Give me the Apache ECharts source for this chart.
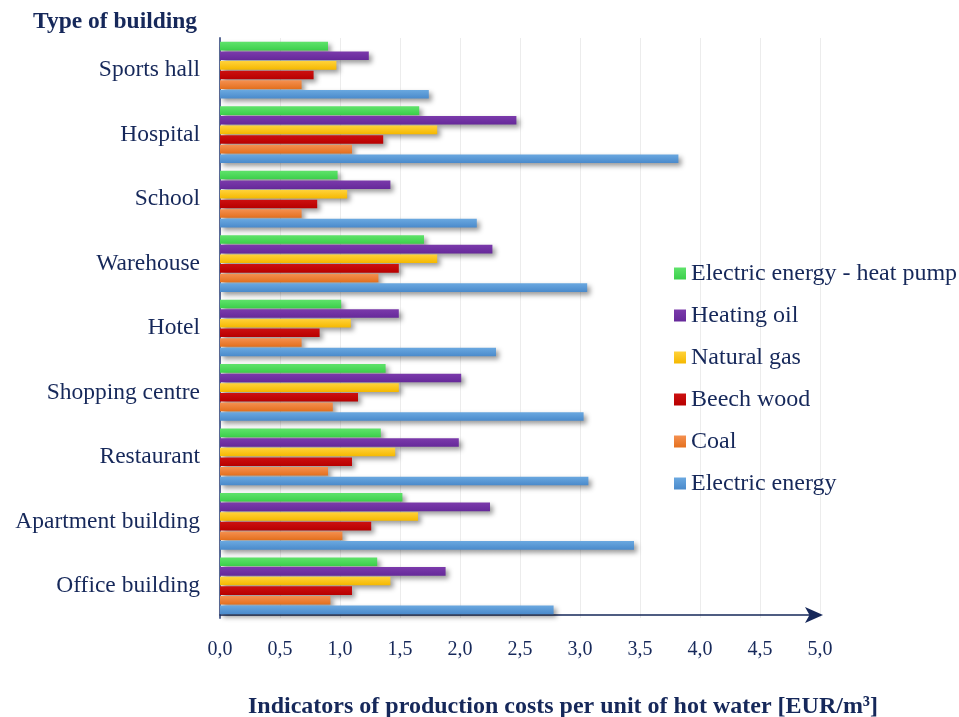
<!DOCTYPE html>
<html>
<head>
<meta charset="utf-8">
<script src="https://cdn.jsdelivr.net/npm/echarts@6/dist/echarts.min.js"></script>
<style>
html,body{margin:0;padding:0;background:#fff;}
#chart{width:959px;height:717px;}
</style>
</head>
<body>
<div id="chart"></div>
<script>
// Categories from bottom to top
const categories = ['Office building','Apartment building','Restaurant','Shopping centre','Hotel','Warehouse','School','Hospital','Sports hall'];
const seriesNames = ['Electric energy - heat pump','Heating oil','Natural gas','Beech wood','Coal','Electric energy'];
const heatPump      = [1.31, 1.52, 1.34, 1.38, 1.01, 1.70, 0.98, 1.66, 0.90];
const heatingOil    = [1.88, 2.25, 1.99, 2.01, 1.49, 2.27, 1.42, 2.47, 1.24];
const naturalGas    = [1.42, 1.65, 1.46, 1.49, 1.09, 1.81, 1.06, 1.81, 0.97];
const beechWood     = [1.10, 1.26, 1.10, 1.15, 0.83, 1.49, 0.81, 1.36, 0.78];
const coal          = [0.92, 1.02, 0.90, 0.94, 0.68, 1.32, 0.68, 1.10, 0.68];
const electricEnergy= [2.78, 3.45, 3.07, 3.03, 2.30, 3.06, 2.14, 3.82, 1.74];
const xTicks = [0, 0.5, 1, 1.5, 2, 2.5, 3, 3.5, 4, 4.5, 5];

const colors = [
  ['#5fe36b','#3ccf4b'],
  ['#7b3aab','#66299a'],
  ['#ffd23a','#f5b800'],
  ['#cc1010','#b80000'],
  ['#f59050','#e4701e'],
  ['#6aa8e0','#4a8acb']
];
const values = [heatPump, heatingOil, naturalGas, beechWood, coal, electricEnergy];
const textColor = '#16285a';
const font = 'Liberation Serif';

function grad(c){
  return new echarts.graphic.LinearGradient(0,0,0,1,[{offset:0,color:c[0]},{offset:1,color:c[1]}]);
}

const series = seriesNames.map((n,i)=>({
  name:n,
  type:'bar',
  data:values[i],
  barGap:'12%',
  barCategoryGap:'12%',
  itemStyle:{
    color:grad(colors[i]),
    shadowColor:'rgba(0,0,0,0.4)',
    shadowBlur:5,
    shadowOffsetX:3,
    shadowOffsetY:3
  }
}));

const chart = echarts.init(document.getElementById('chart'), null, {renderer:'canvas'});
chart.setOption({
  animation:false,
  backgroundColor:'#fff',
  textStyle:{fontFamily:font},
  title:[
    {text:'Type of building', left:28, top:5, textStyle:{fontFamily:font,fontSize:23.5,fontWeight:'bold',color:textColor}},
    {text:'Indicators of production costs per unit of hot water [EUR/m³]', left:243, top:690, textStyle:{fontFamily:font,fontSize:24,fontWeight:'bold',color:textColor}}
  ],
  legend:{
    orient:'vertical',
    left:669,
    top:255,
    itemWidth:12,
    itemHeight:12,
    itemGap:15,
    icon:'rect',
    data:seriesNames,
    textStyle:{fontFamily:font,fontSize:24,color:textColor,padding:[0,0,0,0],lineHeight:27}
  },
  grid:{left:220,right:139,top:38,bottom:99,containLabel:false},
  xAxis:{
    type:'value',
    min:0,max:5,interval:0.5,
    offset:-3,
    axisLine:{show:true,lineStyle:{color:'#16285a',width:1.5},symbol:['none','arrow'],symbolSize:[12,18],symbolOffset:[0,3]},
    axisTick:{show:false},
    splitLine:{show:true,lineStyle:{color:'#ececec'}},
    axisLabel:{
      margin:25,
      fontFamily:font,fontSize:20,color:textColor,
      formatter:v=>xTicks.indexOf(v)>=0 ? v.toFixed(1).replace('.',',') : ''
    }
  },
  yAxis:{
    type:'category',
    data:categories,
    axisLine:{show:true,lineStyle:{color:'#5a6a96',width:2}},
    axisTick:{show:false},
    axisLabel:{margin:20,fontFamily:font,fontSize:23.5,color:textColor}
  },
  series:series
});
</script>
</body>
</html>
